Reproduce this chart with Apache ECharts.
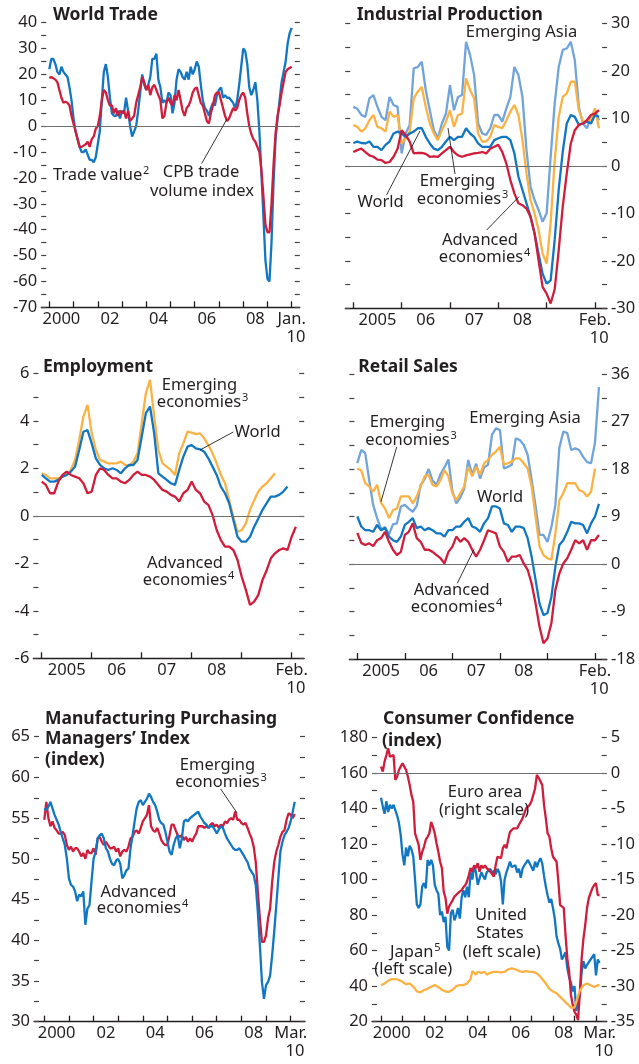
<!DOCTYPE html>
<html><head><meta charset="utf-8">
<script src="https://cdn.jsdelivr.net/npm/echarts@6.0.0/dist/echarts.min.js"></script>
<style>html,body{margin:0;padding:0;background:#fff}#c{width:639px;height:1064px}</style>
</head><body><div id="c"></div>
<script>
// ---------------- DATA ----------------
// Panel 1: World Trade, monthly Jan 2000 - Jan 2010
const tradeValue = [22,26,26,24,21,20,23,21,20,19,15,10,
 3,-2,-5,-8,-10,-10,-9,-11,-13,-13,-14,-12,
 -7,-2,10,21,24,19,11,5,4,4,6,3,
 6,5,11,6,0,-4,-2,0,6,13,20,16,
 14,16,19,26,26,28,18,15,9,10,9,13,
 12,5,9,18,22,21,19,18,21,18,23,20,
 22,25,23,16,10,7,6,4,7,9,8,12,
 14,15,11,12,11,11,10,9,7,10,16,23,
 30,29,24,15,12,14,17,10,-2,-18,-35,-52,
 -59,-60,-45,-22,-5,3,10,17,21,25,32,36,
 38];
const cpbVolume = [18.7,19,18.5,18,17,14,11,9,9.5,9,8,4,
 1,-2,-5,-8,-8,-7.5,-7,-6,-8,-5,-4,-1,
 0,4,10,14,13,10,8,8,5,7,4,6,
 5,6,3,6,2,3,4,9,12,15,19,17,
 14,16,12,15,16,14,12,10,3,4,9,11,
 9,8,12,10,14,10,6,4,7,8,10,13,
 14.5,15,12,9,8,5,2,1,5,8,12,13,
 13,10,7,4,2,3,5,7,6,7,10,12,
 13,11,5,0,-3,-5,-6,-8,-10,-17,-27,-38,
 -41,-41,-30,-15,-3,4,8,13,17,21,22,22.5,
 23];
const tradeTickLabels = ['2000','02','04','06','08','Jan.\n  10'];

// Panel 2: Industrial Production, monthly Jan 2005 - Feb 2010
const ipEmergingAsia = [12.4,12,10.7,10.3,14.2,14.9,12.4,10.3,9.6,14.5,12.8,12.4,
 2.6,6.8,8.6,20.5,20.8,21.9,15.9,11.7,7.5,5.8,8.9,11,
 17,11.7,14.5,14.9,26.1,23.3,19.1,8.9,6.8,6.5,7.9,10.7,
 10.7,9.3,12.1,14.5,20.8,19.1,14.5,3.3,-4.4,-7.2,-9.3,-11.8,
 -10,1.9,13.1,20.8,24.4,24.7,26.1,22.2,12.4,8.9,7.9,10.3,
 11.7,9.6];
const ipEmerging = [8.6,8.2,7.2,7.9,9.6,10.7,8.2,7.9,7.2,11.4,10.3,10.7,
 4.7,5.8,7.2,14.2,15.6,16.6,12.4,8.9,6.8,5.4,7.5,9.3,
 11.7,8.2,10.7,11,18.4,15.9,14.2,6.8,5.1,5.1,6.1,8.6,
 8.2,7.9,9.6,11.4,12.8,10.7,5.4,-1.6,-7.2,-10,-13.5,-18.5,
 -20.6,-12,1,10.3,14.5,15.2,17.7,17.7,11.7,9.3,9.3,9.6,
 12.1,7.9];
const ipWorld = [4.8,5.1,4.8,4.7,5.1,4,4,3.3,4.4,5.1,6.8,7.2,
 6.8,6.1,6.8,7.2,7.9,7.9,6.1,4.7,3.6,3.3,4,5.1,
 6.1,5.4,6.1,6.1,7.9,6.8,6.1,4.7,4,4,4,5.4,
 5.8,6.1,6.1,5.4,2.6,-2.3,-5.1,-7.9,-10.7,-14.2,-18.5,-22.7,
 -24.8,-24.1,-15.6,-5,3,8.9,10.7,10.3,8.6,8.9,9.3,8.9,
 10.7,10.3];
const ipAdvanced = [2.9,3.3,3.6,2.9,2.2,1.9,1.3,1.2,0.6,0.8,1.9,3.6,
 7.5,6.5,5.1,2.6,2.7,2.7,2.5,1.9,2,1.9,2.6,3.3,
 4,2.9,2.2,1.9,2.2,2.4,2.6,2.7,2.9,2.6,3.6,4,
 4.4,2.9,0.5,-3,-5.8,-7.9,-8.3,-9,-10.7,-14.2,-19.9,-25.5,
 -26.9,-29,-26,-17.8,-8.6,-1.6,4.7,7.5,8.6,8.9,9.6,10.7,
 11,11.7];
const shortTickLabels = ['2005','06','07','08','Feb.\n  10'];

// Panel 3: Employment, monthly from Jan 2005
const empEmerging = [1.79,1.72,1.58,1.58,1.58,1.65,1.72,1.93,2.35,3.19,4.18,4.67,
 3.47,2.77,2.35,2.28,2.21,2.21,2.21,2.28,2.14,2.1,2.28,2.63,
 3.89,5.16,5.72,4.18,2.77,2.21,2.07,1.93,1.72,2.63,3.05,3.54,
 3.5,3.44,3.47,3.26,2.98,2.63,2.21,1.72,1.37,0.66,-0.04,-0.67,
 -0.6,-0.32,0.25,0.66,1.02,1.23,1.37,1.58,1.79];
const empWorld = [1.72,1.58,1.44,1.44,1.51,1.65,1.72,1.86,2.07,2.77,3.54,3.61,
 3.05,2.42,2.14,2,1.93,2,1.93,1.79,2,2.14,2.14,2.35,
 3.33,4.32,4.6,3.47,1.79,1.65,1.51,1.37,1.3,1.93,2.49,2.91,
 2.98,2.84,2.8,2.7,2.42,2.07,1.72,1.23,0.95,0.53,-0.18,-0.88,
 -1.09,-1.09,-0.88,-0.46,-0.11,0.25,0.53,0.81,0.81,0.88,1.02,1.23];
const empAdvanced = [1.44,1.3,0.95,0.95,1.44,1.72,1.86,1.72,1.65,1.58,1.37,0.95,
 1.02,1.72,2,1.93,1.72,1.58,1.58,1.44,1.37,1.51,1.72,1.86,
 1.72,1.72,1.65,1.51,1.3,1.09,1.02,0.88,0.81,0.6,0.95,1.09,
 1.44,1.09,0.95,0.6,0.46,0.04,-0.6,-1.02,-1.3,-1.3,-1.44,-1.86,
 -2.56,-3.12,-3.75,-3.61,-3.33,-2.7,-2.29,-1.79,-1.58,-1.44,-1.37,-1.44,
 -0.88,-0.46];

// Panel 4: Retail Sales, monthly from Jan 2005
const rsEmergingAsia = [19.1,21.6,21,15.9,11.2,8.7,6.6,7,5.6,7.5,7.7,10.9,
 11.2,10.5,9.9,11,15,16.1,18,15.8,15,17,18.3,19.8,
 13.8,11.5,12.6,14.3,19.7,16.9,19,16.2,18.3,18.8,24.5,25.7,
 25.4,18.1,18.4,18.8,23.8,23.5,22.6,20.7,16,11,5.5,5.5,
 4.2,7,11.2,22,25.1,24.8,21.6,21.9,21.6,20.3,19.3,19.1,
 23,33.5];
const rsEmerging = [18.1,17.7,15.3,14.7,13.7,15,11.6,10.5,8.7,10.2,10.5,12.8,
 12.8,12.8,11.5,12.8,14.7,16.6,16.9,15,14.7,15.9,17.8,16.6,
 13.4,12.1,13.4,14.7,18.4,16.6,18.4,16.9,19.1,19.7,20.7,21.3,
 22.2,18.8,19.1,19.4,20,20,19.1,18.1,14.7,9,3.3,1.7,
 1.1,0.8,5.8,12.1,13.4,15.3,15.3,15.3,14,13.7,12.8,13.7,
 18.1];
const rsWorld = [9,7.1,6.4,6.4,6.1,7.4,6.4,6.8,5.2,4.5,4.2,5.2,
 7.4,8,8.7,6.8,7.1,6.4,6.8,6.4,5.8,5.8,5.2,6.4,
 6.4,7.1,7.1,8,8.7,7.1,6.8,6.1,7.7,8.7,10.9,10.9,
 10.5,7.7,7.4,6.1,7.1,7.1,6.8,4.9,1.4,-3,-7.5,-9.7,
 -9.3,-6.2,-0.5,3.6,4.5,6.1,8,7.7,7.7,7.4,5.8,7.7,
 9,11.4];
const rsAdvanced = [5.9,4,3.6,3.9,3.4,4.5,4.9,6.1,4.2,2.7,1.7,2.3,
 5.5,6.1,7.7,4.9,4.2,2.7,2.7,2.3,1.7,1.1,0.1,2.3,
 3.3,5.2,4.2,4.9,4.2,2.7,1.4,2.7,4.5,6.4,6.1,5.8,
 3.3,2.3,0.4,1.4,1.4,1.7,0.1,-1.1,-3.7,-7.5,-11.9,-15,
 -14.1,-11.2,-4.9,-1.8,0.1,1.1,2.7,4.5,3.9,4.5,2.7,4.5,
 4.5,5.5];

// Panel 5: Manufacturing PMI, monthly Jan 2000 - Mar 2010
const pmiAdvanced = [56.2,56,56.4,57,56.2,55.4,54.8,54.2,53.3,52.5,51.7,50,47.6,46.8,46.6,46,44.8,45.6,45.4,
 46,41.9,43.9,44.3,47.2,50,50.9,52.5,52.9,53.1,52.5,51.3,50.9,50,49.4,49.2,49.8,50,49.4,47.6,
 48,48.6,48.8,51.3,52.9,54.6,56.2,57,57.2,56.6,57,57.4,58,57.6,57,56.6,55.8,
 54.8,54.4,54.2,53.3,52.1,50.9,50.5,51.7,52.5,52.9,51.3,52.5,54.6,54.8,54.6,55,55.2,55.4,55.6,55.8,
 55.2,54.8,54.4,54.2,53.8,54,54,53.6,53.1,53.6,54,53.8,53.1,52.5,52.1,51.7,51.3,51.1,
 51.1,51.3,50.9,50.5,50,49.6,48.8,48.4,48,46.8,43.5,39.4,34.9,32.8,34.5,34.9,35.7,38.2,41.1,44.3,
 47.6,50.9,52.1,52.9,53.3,53.8,54.6,55.8,57];
const pmiEmerging = [54.8,57,55,54,54.6,53.8,53.5,53.1,53.1,53.3,52.9,51.7,51.1,51.5,50.9,51.3,51.3,50.9,50.3,
 50.7,50,51.1,50.7,50.7,51.3,50.5,52.5,52.7,52.1,51.7,52.1,51.7,51.3,51.3,51.5,50.9,51.3,50.3,50.9,
 51.1,50.9,51.5,52.5,52.7,53.3,53.5,53.1,53.8,54.6,55,55.4,56.6,54,53.5,53.3,53.8,
 53.1,52.3,51.9,51.7,51.7,52.9,54.2,54.2,53.5,52.9,52.7,52.9,52.3,52.7,52.1,52.5,52.1,52.7,53.1,54,
 54,54,53.8,54,53.8,54.2,54.4,54,54.2,53.8,54.2,54,54.6,54.4,54.8,55,54.8,55.8,
 54.8,54.8,54.4,54.2,54.4,53.8,53.1,52.5,51.5,49.6,46,42.7,39.8,39.8,40.6,42.7,43.9,47.2,49.6,50.9,
 51.7,52.7,53.3,53.5,54.8,55.6,55.4,55,55.5];
const longTickLabels = ['2000','02','04','06','08','Mar.\n  10'];

// Panel 6: Consumer Confidence, monthly Jan 2000 - Mar 2010
const ccEuroArea = [0.87,0.17,1.58,2.5,3.45,2.28,2.5,2.5,-1,-0.53,0.4,0.87,
 1.34,0.87,0.4,-0.53,-1.7,-3.1,-4.05,-8.5,-8.7,-10.1,-12.25,-11.1,
 -10.4,-9.4,-9,-8.5,-6.9,-7.6,-8.5,-9.9,-11.1,-12.5,-13.4,-16.7,
 -17.6,-19.8,-18.8,-18.6,-17.9,-17.4,-17.2,-16.9,-16.7,-16.5,-16.1,-15.8,
 -15.3,-14.4,-13.4,-13.9,-13,-13.4,-12.7,-13.9,-13,-13.4,-13,-13.4,
 -13.2,-13.9,-13.9,-14.6,-13,-11.8,-11.8,-12,-10.6,-10.1,-10.6,-9.4,
 -8.3,-8.5,-7.8,-8,-7.8,-7.3,-7.1,-6.4,-5.7,-5,-4.75,-4.5,
 -4,-3.8,-2.2,-0.3,-0.7,-1.2,-1.7,-4.5,-6.4,-8.5,-9,-10.6,
 -11.8,-12,-12.5,-15.3,-18.6,-18.8,-19,-22.8,-26.1,-27.9,-31.2,-32.6,
 -33.6,-34,-34.8,-30.8,-26.1,-23.3,-21.4,-19,-17.6,-16.9,-16.2,-15.8,
 -15.5,-17.2,-17.2];
const ccUnitedStates = [146,141,137,144,138,142,140,142,141,136,132,125,
 114,108,118,113,119,117,113,100,86,84,86,96,
 98,95,111,108,111,108,97,94,92,80,82,76,
 79,62,60,81,83,77,80,84,78,90,94,90,
 96,90,104,100,108,104,97,96,104,103,100,104,
 104,106,103,105,103,106,104,99,86,100,104,107,
 110,107,106,108,104,106,101,106,108,109,111,109,
 108,105,110,107,110,112,109,102,96,91,87,89,
 84,78,68,64,61,55,57,59,50,45,42,37,
 40,26,27,35,48,54,50,52,53,55,54,58,
 46,55,53];
const ccJapan = [40.6,41,41.5,42.5,43,44,44,44,44,44,43.5,42.5,
 42.5,42,41,41,41.5,40.5,39.7,38.5,37,36.5,36.5,37,
 37.8,38,38.5,39,39.7,40.3,40.6,40.3,39.5,38.7,38,37.5,
 37,36.5,36.8,37.3,38,38.8,40,40.6,40.6,40.6,40.6,41,
 41.5,42.5,44,48.5,47.5,46.5,48,47,47.5,47.5,48,46.5,
 47.5,47.5,48,48,48,48,47.5,47.8,48,48,49,49.5,
 50,50,50,49.5,49,48.5,48,48,48,48.5,48.5,48,
 48,48,47.8,47.2,46.5,45.3,44,43,41.5,40,38.5,37.5,
 37,36.5,36,35,34,33,32,31,30,29,28,27.5,
 28,31,34.5,37.5,39,40.5,41,41.5,41,40.5,40,39.5,
 40.5,40.5,40.5];
const ccTickLabels = ['2000','02','04','06','08','Mar.\n  10'];

// ---------------- HELPERS ----------------
const TXT = '#231f20', RED = '#d01d3c', BLUE = '#1277c2', ORANGE = '#fbb245', LBLUE = '#72a4dc', ZERO = '#707070', TICK = '#4a423e';
const FAM = '"Noto Sans", "DejaVu Sans", sans-serif';
const FS = 16.5;
const FONT = FS + 'px ' + FAM;
const SUPFONT = '11px ' + FAM;

function monthCats(y, m, n) {
  const a = [];
  for (let i = 0; i < n; i++) {
    const t = y * 12 + (m - 1) + i;
    const yy = Math.floor(t / 12), mm = t % 12 + 1;
    a.push(yy + '-' + (mm < 10 ? '0' : '') + mm);
  }
  return a;
}
function place(vals, off, len) {
  const a = new Array(len).fill(null);
  for (let i = 0; i < vals.length; i++) a[off + i] = vals[i];
  return a;
}
function labelMap(keys, texts) { const o = {}; keys.forEach((k, i) => o[k] = texts[i]); return o; }

const panels = [
  { grid: { left: 41.22, top: 22.7, width: 258.56, height: 284.6 }, cats: monthCats(1999, 9, 129),
    labels: labelMap(['2000-07','2002-07','2004-07','2006-07','2008-07','2010-01'], tradeTickLabels) },
  { grid: { left: 345.24, top: 23.3, width: 261.8, height: 285 }, cats: monthCats(2004, 11, 66),
    labels: labelMap(['2005-07','2006-07','2007-07','2008-07','2010-01'], shortTickLabels) },
  { grid: { left: 33.37, top: 373.3, width: 270.8, height: 285 }, cats: monthCats(2004, 11, 66),
    labels: labelMap(['2005-07','2006-07','2007-07','2008-07','2010-01'], shortTickLabels) },
  { grid: { left: 349.38, top: 374, width: 257.5, height: 285 }, cats: monthCats(2004, 11, 66),
    labels: labelMap(['2005-07','2006-07','2007-07','2008-07','2010-01'], shortTickLabels) },
  { grid: { left: 34.03, top: 736.7, width: 271.0, height: 285 }, cats: monthCats(1999, 8, 133),
    labels: labelMap(['2000-07','2002-07','2004-07','2006-07','2008-07','2010-01'], longTickLabels) },
  { grid: { left: 372.04, top: 737.3, width: 234.7, height: 284.4 }, cats: monthCats(1999, 8, 132),
    labels: labelMap(['2000-07','2002-07','2004-07','2006-07','2008-07','2010-03'], ccTickLabels) }
];

// y axes: [left, right] per panel
const yDefs = [
  [{ min: -70, max: 40, step: 5, major: 10, show: true }, { min: -70, max: 40, step: 5, major: 10, show: false }],
  [{ min: -30, max: 30, step: 5, major: 10, show: false }, { min: -30, max: 30, step: 5, major: 10, show: true }],
  [{ min: -6, max: 6, step: 1, major: 2, show: true }, { min: -6, max: 6, step: 1, major: 2, show: false }],
  [{ min: -18, max: 36, step: 4.5, major: 9, show: false }, { min: -18, max: 36, step: 4.5, major: 9, show: true }],
  [{ min: 30, max: 65, step: 2.5, major: 5, show: true }, { min: 30, max: 65, step: 2.5, major: 5, show: false }],
  [{ min: 20, max: 180, step: 10, major: 20, show: true }, { min: -35, max: 5, step: 2.5, major: 5, show: true }]
];

const grids = [], xAxes = [], yAxes = [];
panels.forEach((p, g) => {
  grids.push(Object.assign({ containLabel: false }, p.grid));
  xAxes.push({
    type: 'category', gridIndex: g, data: p.cats, boundaryGap: false,
    axisLine: { show: true, onZero: false, lineStyle: { color: TXT, width: 1.3 } },
    axisTick: { show: true, inside: true, length: 6, interval: (i, v) => String(v).slice(5) === '01', lineStyle: { color: TXT, width: 1.3 } },
    axisLabel: { show: true, interval: (i, v) => p.labels[v] !== undefined, formatter: (v) => p.labels[v] || '',
      fontSize: FS, fontFamily: FAM, color: TXT, margin: 3, lineHeight: 18 },
    splitLine: { show: false }
  });
  yDefs[g].forEach((d, side) => {
    yAxes.push({
      type: 'value', gridIndex: g, position: side === 0 ? 'left' : 'right',
      min: d.min, max: d.max, interval: d.step,
      axisLine: { show: false },
      axisTick: { show: true, inside: true, length: 5, lineStyle: { color: TICK, width: 1.2 } },
      splitLine: { show: false },
      axisLabel: { show: d.show, fontSize: FS, fontFamily: FAM, color: TXT, margin: 4,
        formatter: (v) => { const r = v / d.major; return Math.abs(r - Math.round(r)) < 1e-6 ? String(Math.round(v * 100) / 100) : ''; } }
    });
  });
});

function line(data, g, yi, color, z) {
  return { type: 'line', xAxisIndex: g, yAxisIndex: yi, data: data, symbol: 'none', showSymbol: false,
    lineStyle: { color: color, width: 2.3 }, itemStyle: { color: color }, z: z, connectNulls: false, silent: true };
}
function zeroLine(s) {
  s.markLine = { silent: true, symbol: ['none', 'none'], label: { show: false },
    lineStyle: { color: ZERO, width: 1, type: 'solid' }, data: [{ yAxis: 0 }] };
  return s;
}
const L = panels.map(p => p.cats.length);
const series = [
  zeroLine(line(place(tradeValue, 4, L[0]), 0, 0, BLUE, 2)),
  line(place(cpbVolume, 4, L[0]), 0, 0, RED, 3),

  zeroLine(line(place(ipEmergingAsia, 2, L[1]), 1, 3, LBLUE, 2)),
  line(place(ipEmerging, 2, L[1]), 1, 3, ORANGE, 3),
  line(place(ipWorld, 2, L[1]), 1, 3, BLUE, 4),
  line(place(ipAdvanced, 2, L[1]), 1, 3, RED, 5),

  zeroLine(line(place(empEmerging, 2, L[2]), 2, 4, ORANGE, 2)),
  line(place(empWorld, 2, L[2]), 2, 4, BLUE, 3),
  line(place(empAdvanced, 2, L[2]), 2, 4, RED, 4),

  zeroLine(line(place(rsEmergingAsia, 2, L[3]), 3, 7, LBLUE, 2)),
  line(place(rsEmerging, 2, L[3]), 3, 7, ORANGE, 3),
  line(place(rsWorld, 2, L[3]), 3, 7, BLUE, 4),
  line(place(rsAdvanced, 2, L[3]), 3, 7, RED, 5),

  line(place(pmiEmerging, 5, L[4]), 4, 8, RED, 2),
  line(place(pmiAdvanced, 5, L[4]), 4, 8, BLUE, 3),

  line(place(ccUnitedStates, 5, L[5]), 5, 10, BLUE, 3),
  zeroLine(line(place(ccEuroArea, 5, L[5]), 5, 11, RED, 4)),
  line(place(ccJapan, 5, L[5]), 5, 10, ORANGE, 5)
];

// ---------------- ANNOTATIONS ----------------
const mctx = document.createElement('canvas').getContext('2d');
function textWidth(t, font) { mctx.font = font; return mctx.measureText(t).width; }

function T(x, y, text, align, bold) {
  return { type: 'text', x: x, y: y, silent: true, z: 20,
    style: { text: text, fill: TXT, font: bold ? ('bold 17.5px ' + FAM) : FONT,
      textAlign: align || 'center', textVerticalAlign: 'middle', align: align || 'center', verticalAlign: 'middle' } };
}
// word with superscript note; x is centre of the word (or left edge if align='left')
function TS(x, y, word, sup, align) {
  const w = textWidth(word, FONT);
  const right = align === 'left' ? x + w : x + w / 2;
  return [T(x, y, word, align),
    { type: 'text', x: right + 0.8, y: y - 4.2, silent: true, z: 20,
      style: { text: sup, fill: TXT, font: SUPFONT, textAlign: 'left', textVerticalAlign: 'middle', align: 'left', verticalAlign: 'middle' } }];
}
function Lk(x1, y1, x2, y2) {
  return { type: 'line', silent: true, z: 20, shape: { x1: x1, y1: y1, x2: x2, y2: y2 }, style: { stroke: TXT, lineWidth: 0.9 } };
}
const graphics = [].concat(
  T(53, 15, 'World Trade', 'left', true),
  TS(53, 175, 'Trade value', '2', 'left'),
  T(201, 172, 'CPB trade'),
  T(202, 191, 'volume index'),
  Lk(201.7, 163.5, 226.7, 119.5),

  T(356.7, 15, 'Industrial Production', 'left', true),
  T(521.5, 32, 'Emerging Asia'),
  T(457.5, 181.5, 'Emerging'),
  TS(459, 199, 'economies', '3'),
  T(380.5, 202, 'World'),
  T(480, 240, 'Advanced'),
  TS(481, 257, 'economies', '4'),
  Lk(386.5, 195, 420, 131),
  Lk(455, 174, 448, 128),
  Lk(486.7, 230, 519, 196.7),

  T(43, 366.7, 'Employment', 'left', true),
  T(199.5, 385, 'Emerging'),
  TS(199, 402, 'economies', '3'),
  T(257.5, 432, 'World'),
  T(185, 563, 'Advanced'),
  TS(185, 580, 'economies', '4'),
  Lk(233.3, 432, 200, 450),

  T(358.3, 366.7, 'Retail Sales', 'left', true),
  T(407.5, 422, 'Emerging'),
  TS(407.5, 440, 'economies', '3'),
  T(525, 418, 'Emerging Asia'),
  T(500, 497, 'World'),
  T(451.7, 590, 'Advanced'),
  TS(453, 607, 'economies', '4'),
  Lk(396.7, 447, 381, 501.7),
  Lk(457.3, 583.3, 474, 549.3),

  T(45, 719, 'Manufacturing Purchasing', 'left', true),
  T(45, 739.5, 'Managers\u2019 Index', 'left', true),
  T(45, 760, '(index)', 'left', true),
  T(217.5, 765, 'Emerging'),
  TS(217.5, 782, 'economies', '3'),
  Lk(220.7, 789, 237.3, 813.3),
  T(138.5, 892, 'Advanced'),
  TS(139, 908.5, 'economies', '4'),

  T(383, 719, 'Consumer Confidence', 'left', true),
  T(382, 741, '(index)', 'left', true),
  T(485, 792, 'Euro area'),
  T(484, 810, '(right scale)'),
  T(501, 915, 'United'),
  T(500, 933, 'States'),
  T(501.7, 952, '(left scale)'),
  TS(411.7, 952, 'Japan', '5'),
  T(413.3, 969, '(left scale)')
);

const chart = echarts.init(document.getElementById('c'), null, { renderer: 'canvas' });
chart.setOption({
  backgroundColor: '#ffffff',
  animation: false,
  grid: grids, xAxis: xAxes, yAxis: yAxes, series: series,
  graphic: { elements: graphics }
});
</script></body></html>
